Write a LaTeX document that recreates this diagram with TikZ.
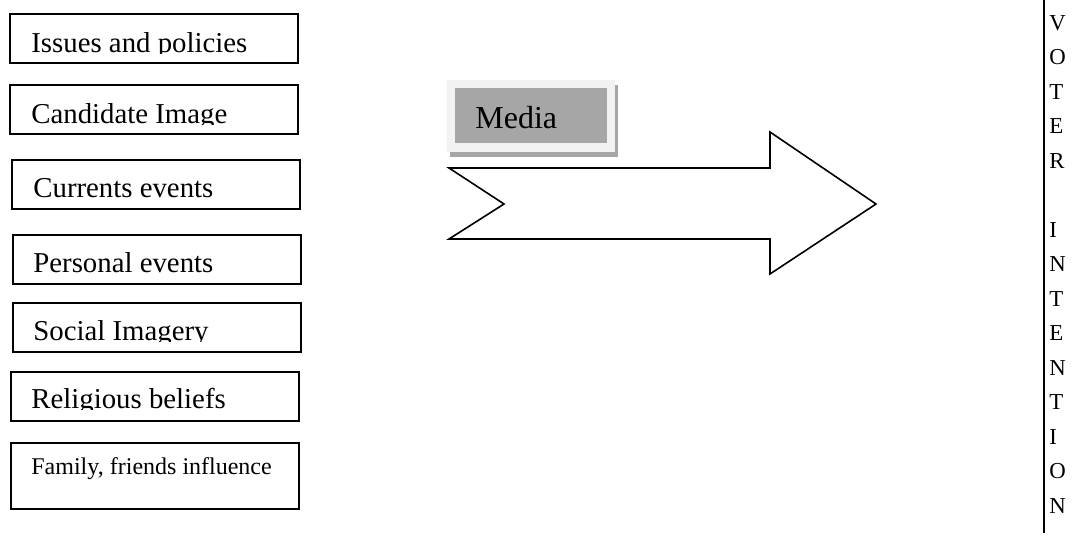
\documentclass[tikz,border=0pt]{standalone}
\usepackage{fontspec}
\setmainfont{Liberation Serif}
\usepackage{tikz}
\usetikzlibrary{calc}
\definecolor{mediagray}{RGB}{166,166,166}
\definecolor{mediaframe}{RGB}{242,242,242}
\tikzset{
  factor/.style={draw, line width=1pt, anchor=north west, minimum width=144pt, minimum height=24.5pt, inner sep=0pt},
  factortext/.style={anchor=base west, inner sep=0pt, font=\fontsize{14.4}{17}\selectfont}
}

\begin{document}
\begin{tikzpicture}[x=0.5pt,y=-0.5pt]
\useasboundingbox (0,0) rectangle (1082,536);
% factors
\node[factor] (issues) at (9,13) {};
\node[factor] (image) at (9,84) {};
\node[factor] (current) at (11,159) {};
\node[factor] (personal) at (12,234) {};
\node[factor] (social) at (12,302) {};
\node[factor] (religious) at (10,371) {};
\node[factor, minimum height=33pt] (family) at (10,442) {};
\begin{scope}
\clip (issues.north west) rectangle ($(issues.north east)+(0,40.5)$);
\node[factortext] (issuestext) at ($(issues.north west)+(22,39)$) {Issues and policies};
\end{scope}
\begin{scope}
\clip (image.north west) rectangle ($(image.north east)+(0,40.5)$);
\node[factortext] (imagetext) at ($(image.north west)+(22,39)$) {Candidate Image};
\end{scope}
\begin{scope}
\clip (current.north west) rectangle ($(current.north east)+(0,39.5)$);
\node[factortext] (currenttext) at ($(current.north west)+(22,38)$) {Currents events};
\end{scope}
\begin{scope}
\clip (personal.north west) rectangle ($(personal.north east)+(0,39.5)$);
\node[factortext] (personaltext) at ($(personal.north west)+(21,38)$) {Personal events};
\end{scope}
\begin{scope}
\clip (social.north west) rectangle ($(social.north east)+(0,39.5)$);
\node[factortext] (socialtext) at ($(social.north west)+(21,38)$) {Social Imagery};
\end{scope}
\begin{scope}
\clip (religious.north west) rectangle ($(religious.north east)+(0,38.5)$);
\node[factortext] (religioustext) at ($(religious.north west)+(21,37)$) {Religious beliefs};
\end{scope}
\node[factortext, font=\fontsize{12}{14}\selectfont] (familytext) at ($(family.north west)+(21,32)$) {Family, friends influence};
% media
\fill[mediagray] (450,85) rectangle (618,157);
\fill[mediaframe] (447,80) rectangle (615,152);
\node[fill=mediagray, anchor=north west, inner sep=0pt, minimum width=76pt, minimum height=27.5pt] (media) at (455,88) {};
\node[anchor=base west, inner sep=0pt, font=\fontsize{16}{19}\selectfont] (mediatext) at (475,128) {Media};
\draw[line width=0.8pt] (449,168) -- (504,204) -- (449,239) -- (770,239) -- (770,274) -- (876,204) -- (770,132) -- (770,168) -- cycle;
% voter intention
\coordinate (votertop) at (1044,0);
\coordinate (voterbottom) at (1044,533);
\draw[line width=1pt] (votertop) -- (voterbottom);
\node[anchor=north west, inner sep=0pt, align=left, font=\fontsize{11.4}{17.25}\selectfont] (intention) at (1049,15) {V\\O\\T\\E\\R\\\mbox{}\\I\\N\\T\\E\\N\\T\\I\\O\\N};
\end{tikzpicture}
\end{document}
